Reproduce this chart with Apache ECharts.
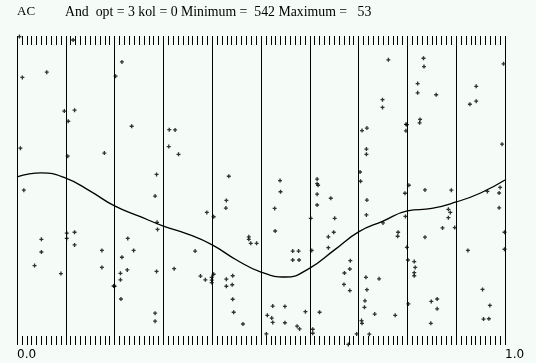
<!DOCTYPE html>
<html>
<head>
<meta charset="utf-8">
<script src="https://cdn.jsdelivr.net/npm/echarts@6/dist/echarts.min.js"></script>
<style>
html,body{margin:0;padding:0;background:#f5fbf7;}
#chart{width:536px;height:363px;}
</style>
</head>
<body>
<div id="chart"></div>
<script>
const titleLeft = 'AC';
const titleRight = 'And  opt = 3 kol = 0 Minimum =  542 Maximum =   53';
const xTickLabels = ['0.0', '1.0'];

const curveX = [0,0.05,0.1,0.15,0.2,0.25,0.3,0.35,0.4,0.45,0.5,0.55,0.6,0.65,0.7,0.75,0.8,0.85,0.9,0.95,1.0];
const curveY = [0.544,0.557,0.540,0.498,0.450,0.417,0.385,0.359,0.324,0.275,0.236,0.220,0.249,0.307,0.366,0.401,0.434,0.442,0.463,0.492,0.534];

const scatterPoints = [
[0.011,0.866],[0.061,0.883],[0.097,0.757],[0.118,0.760],[0.105,0.724],[0.007,0.637],[0.104,0.611],[0.179,0.621],
[0.014,0.501],[0.102,0.362],[0.118,0.365],[0.102,0.345],[0.050,0.342],[0.118,0.324],[0.050,0.301],[0.174,0.306],
[0.036,0.257],[0.090,0.231],[0.174,0.251],[0.198,0.191],[0.005,0.998],[0.115,0.987],
[0.215,0.916],[0.202,0.870],[0.235,0.708],[0.312,0.697],[0.324,0.696],[0.311,0.642],[0.331,0.617],[0.286,0.552],
[0.283,0.482],[0.389,0.429],[0.287,0.397],[0.288,0.374],[0.227,0.345],[0.239,0.306],[0.365,0.304],[0.215,0.284],
[0.322,0.247],[0.226,0.243],[0.286,0.238],[0.212,0.232],[0.212,0.211],[0.376,0.223],[0.386,0.211],[0.399,0.219],
[0.399,0.202],[0.200,0.190],[0.213,0.149],[0.283,0.103],[0.283,0.077],
[0.434,0.546],[0.539,0.532],[0.540,0.496],[0.429,0.468],[0.428,0.443],[0.528,0.442],[0.403,0.415],[0.529,0.369],
[0.475,0.350],[0.475,0.342],[0.479,0.329],[0.491,0.329],[0.565,0.304],[0.577,0.304],[0.565,0.275],[0.578,0.275],
[0.403,0.229],[0.399,0.210],[0.429,0.213],[0.442,0.224],[0.429,0.190],[0.441,0.195],[0.442,0.148],[0.444,0.106],
[0.524,0.126],[0.549,0.125],[0.591,0.108],[0.513,0.096],[0.522,0.087],[0.524,0.073],[0.549,0.072],[0.463,0.068],
[0.574,0.061],[0.579,0.052],[0.511,0.036],
[0.761,0.923],[0.749,0.794],[0.749,0.769],[0.797,0.714],[0.797,0.693],[0.707,0.694],[0.717,0.702],[0.716,0.634],
[0.716,0.617],[0.615,0.537],[0.615,0.522],[0.617,0.517],[0.615,0.488],[0.615,0.453],[0.703,0.560],[0.704,0.530],
[0.643,0.475],[0.717,0.469],[0.795,0.491],[0.716,0.421],[0.602,0.410],[0.651,0.410],[0.796,0.416],[0.750,0.395],
[0.649,0.365],[0.638,0.350],[0.781,0.365],[0.780,0.352],[0.604,0.306],[0.638,0.315],[0.799,0.316],[0.683,0.273],
[0.682,0.246],[0.671,0.233],[0.670,0.196],[0.682,0.176],[0.715,0.219],[0.742,0.214],[0.717,0.179],[0.713,0.143],
[0.712,0.122],[0.620,0.106],[0.733,0.100],[0.775,0.096],[0.706,0.079],[0.707,0.070],[0.606,0.051],[0.606,0.038],
[0.696,0.036],[0.722,0.035],[0.679,0.002],
[0.833,0.928],[0.834,0.901],[0.997,0.910],[0.821,0.846],[0.821,0.816],[0.859,0.810],[0.941,0.837],[0.941,0.789],
[0.928,0.779],[0.826,0.730],[0.825,0.719],[0.799,0.713],[0.994,0.650],[0.803,0.517],[0.836,0.502],[0.890,0.501],
[0.964,0.497],[0.990,0.510],[0.988,0.492],[0.988,0.444],[0.884,0.439],[0.888,0.429],[0.884,0.412],[0.872,0.379],
[0.897,0.380],[0.836,0.349],[0.999,0.365],[0.924,0.306],[0.999,0.310],[0.801,0.275],[0.814,0.270],[0.816,0.251],
[0.814,0.234],[0.814,0.224],[0.954,0.180],[0.802,0.133],[0.849,0.141],[0.861,0.149],[0.861,0.117],[0.969,0.128],
[0.848,0.070],[0.956,0.084],[0.967,0.085]
];

const chart = echarts.init(document.getElementById('chart'), null, {renderer:'canvas'});
const axisCommon = {
  type: 'value', min: 0, max: 1, interval: 0.1,
  axisLine: {show: false},
  axisTick: {show: true, inside: true, length: 9, lineStyle: {color: '#000', width: 1}},
  minorTick: {show: true, splitNumber: 10, length: 9, lineStyle: {color: '#000', width: 1}},
};
chart.setOption({
  backgroundColor: '#f5fbf7',
  animation: false,
  graphic: [
    {type:'text', left: 17, top: 5, style:{text: titleLeft, font:'13px "Liberation Serif"', fill:'#000'}},
    {type:'text', left: 65, top: 5, style:{text: titleRight, font:'13.8px "Liberation Serif"', fill:'#000'}}
  ],
  grid: {left: 17, right: 31, top: 36, bottom: 18},
  xAxis: [
    Object.assign({}, axisCommon, {
      position: 'bottom',
      splitLine: {show: true, lineStyle: {color: '#000', width: 1}},
      axisLabel: {
        show: true, showMinLabel: true, showMaxLabel: true, align: 'left', margin: 4,
        color: '#000', fontSize: 12, fontFamily: 'DejaVu Sans',
        formatter: v => (v === 0 ? xTickLabels[0] : (v === 1 ? xTickLabels[1] : ''))
      }
    }),
    Object.assign({}, axisCommon, {
      position: 'top',
      splitLine: {show: false},
      axisLabel: {show: false}
    })
  ],
  yAxis: {type: 'value', min: 0, max: 1, show: false},
  series: [
    {
      type: 'line', xAxisIndex: 0, smooth: 0.5, showSymbol: false,
      lineStyle: {color: '#000', width: 1.3},
      data: curveX.map((x, i) => [x, curveY[i]])
    },
    {
      type: 'scatter', xAxisIndex: 0,
      symbol: 'path://M1,0h1v1h1v1h-1v1h-1v-1h-1v-1h1z',
      symbolSize: 4,
      itemStyle: {color: '#000'},
      data: scatterPoints
    }
  ]
});
</script>
</body>
</html>
